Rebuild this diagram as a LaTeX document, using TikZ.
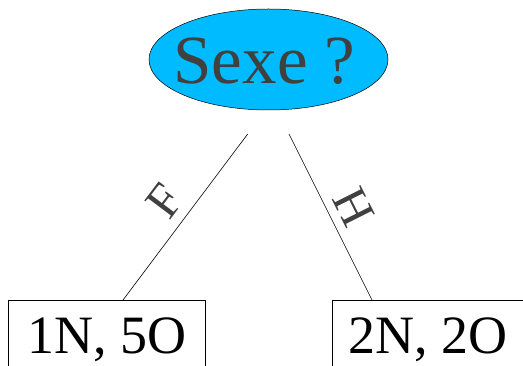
\documentclass[tikz,border=0pt]{standalone}
\usepackage{fontspec}
\setmainfont{Liberation Serif}
\newfontfamily\timesfont{Liberation Serif}
\usetikzlibrary{shapes.geometric}
\definecolor{ellblue}{RGB}{0,187,255}
\definecolor{txtgray}{RGB}{64,64,64}
\begin{document}
\begin{tikzpicture}[x=1pt,y=-1pt,
  edge/.style={draw=black,line width=0.6pt},
  leafbox/.style={draw=black,line width=0.6pt,rectangle,anchor=north,inner xsep=0pt,inner ysep=17pt,
    text height=36pt,text depth=40pt,font=\timesfont\fontsize{54}{54}\selectfont,text=black},
  branchlbl/.style={font=\timesfont\fontsize{49}{49}\selectfont,text=txtgray,inner sep=0pt}]
\clip (0,0) rectangle (523,366);
\node[ellipse,draw=black,line width=0.5pt,fill=ellblue,minimum width=239pt,minimum height=101pt,
  inner sep=0pt,text height=49pt,text depth=0pt,font=\timesfont\fontsize{69}{69}\selectfont,text=txtgray]
  (root) at (268.5,59.5) {\makebox[0pt]{Sexe ?\hspace{8pt}}};
\node[leafbox,minimum width=197.5pt] (lbox) at (106.75,300) {1N, 5O};
\node[leafbox,minimum width=192pt] (rbox) at (428,300) {2N, 2O};
\coordinate (ltop) at (247.7,134);
\coordinate (rtop) at (289,134);
\coordinate (lbot) at (123,300);
\coordinate (rbot) at (372,300);
\draw[edge] (ltop) -- (lbot);
\draw[edge] (rtop) -- (rbot);
\node[branchlbl,rotate=53.1] (flbl) at (165,201) {F};
\node[branchlbl,rotate=-63.4] (hlbl) at (354,207) {H};
\end{tikzpicture}
\end{document}
